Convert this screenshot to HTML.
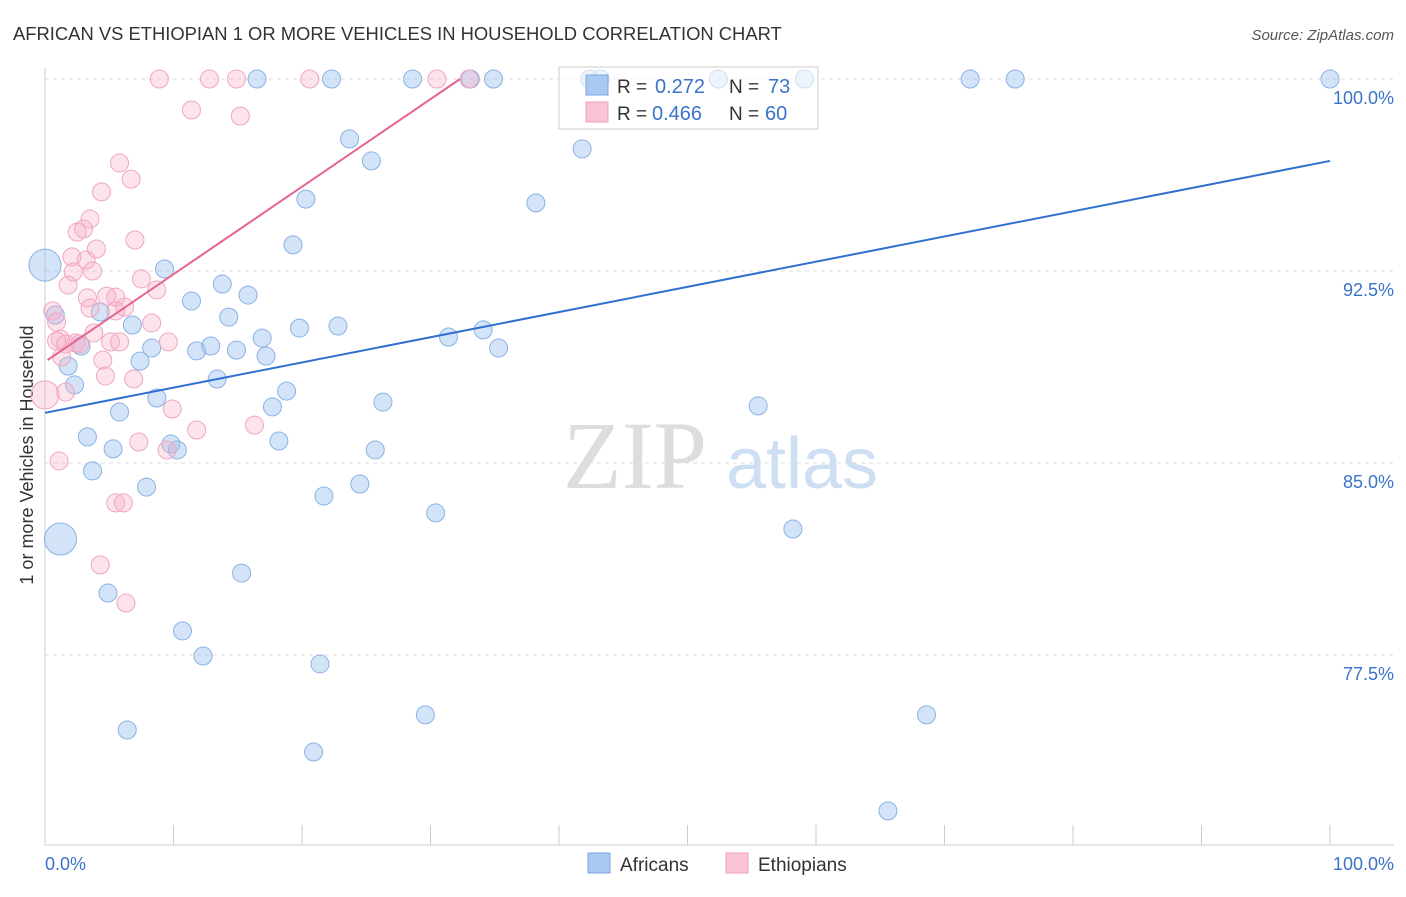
<!DOCTYPE html>
<html><head><meta charset="utf-8"><style>
body{margin:0;background:#fff;font-family:"Liberation Sans",sans-serif}
</style></head><body>
<svg id="chart" width="1406" height="892" xmlns="http://www.w3.org/2000/svg" font-family="Liberation Sans, sans-serif">
<text x="13" y="40" font-size="18.4" fill="#333">AFRICAN VS ETHIOPIAN 1 OR MORE VEHICLES IN HOUSEHOLD CORRELATION CHART</text>
<text x="1394" y="40" font-size="15" fill="#555" text-anchor="end" font-style="italic">Source: ZipAtlas.com</text>
<text transform="translate(33,455) rotate(-90)" font-size="18" fill="#333" text-anchor="middle">1 or more Vehicles in Household</text>
<g>
<text x="635" y="488" font-size="96" fill="#ddd" font-family="Liberation Serif, serif" text-anchor="middle">ZIP</text>
<text x="802" y="488" font-size="72" fill="#cfdff3" text-anchor="middle">atlas</text>
</g>
<g id="grid"></g><g id="ticks"></g><g id="pts"></g><g id="lines"></g>
<g>
<rect x="559" y="67" width="259" height="62" fill="#fff" fill-opacity="0.6" stroke="#ccc"/>
<rect x="586" y="75" width="22" height="20" fill="#a9c8f2" stroke="#7aa7e0"/>
<rect x="586" y="102" width="22" height="20" fill="#f9c5d5" stroke="#f0a0bc"/>
<text x="617" y="93" font-size="19" fill="#333">R =</text>
<text x="655" y="93" font-size="20" fill="#3a73c8">0.272</text>
<text x="729" y="93" font-size="19" fill="#333">N =</text>
<text x="768" y="93" font-size="20" fill="#3a73c8">73</text>
<text x="617" y="120" font-size="19" fill="#333">R =</text>
<text x="652" y="120" font-size="20" fill="#3a73c8">0.466</text>
<text x="729" y="120" font-size="19" fill="#333">N =</text>
<text x="765" y="120" font-size="20" fill="#3a73c8">60</text>
</g>
<g>
<rect x="588" y="853" width="22" height="20" fill="#a9c8f2" stroke="#7aa7e0"/>
<text x="620" y="871" font-size="19" fill="#333">Africans</text>
<rect x="726" y="853" width="22" height="20" fill="#f9c5d5" stroke="#f0a0bc"/>
<text x="758" y="871" font-size="19" fill="#333">Ethiopians</text>
</g>
</svg>
<script>
const yTicks=[100,92.5,85,77.5];
const yTickLabels=["100.0%","92.5%","85.0%","77.5%"];
const xTickLabels=["0.0%","100.0%"];
const afX=[0,16.5,22.3,28.6,33.1,34.9,42.4,43.2,52.4,59.1,72.0,75.5,100,23.7,25.4,41.8,20.3,38.2,19.3,9.3,13.8,11.4,15.8,0.8,4.3,14.3,6.8,19.8,22.8,16.9,31.4,34.1,2.8,8.3,11.8,12.9,14.9,17.2,35.3,7.4,1.8,2.3,13.4,18.8,8.7,26.3,17.7,5.8,55.5,3.3,18.2,9.8,10.3,5.3,25.7,3.7,7.9,24.5,21.7,30.4,58.2,1.2,15.3,4.9,10.7,12.3,21.4,29.6,68.6,6.4,20.9,65.6];
const afY=[92.73,100,100,100,100,100,100,100,100,100,100,100,100,97.66,96.8,97.27,95.31,95.16,93.52,92.58,91.99,91.33,91.56,90.78,90.9,90.7,90.39,90.27,90.35,89.88,89.92,90.2,89.57,89.49,89.38,89.57,89.41,89.18,89.49,88.98,88.79,88.05,88.28,87.81,87.54,87.38,87.19,86.99,87.23,86.02,85.86,85.74,85.51,85.55,85.51,84.69,84.06,84.18,83.71,83.05,82.42,82.03,80.7,79.92,78.44,77.46,77.15,75.16,75.16,74.57,73.71,71.41];
const afBig=[0,61];
const etX=[8.9,12.8,14.9,20.6,30.5,33.0,11.4,15.2,5.8,6.7,4.4,3.5,3.0,2.5,7.0,4.0,2.1,3.2,2.2,3.7,1.8,7.5,8.7,0.6,3.3,5.5,4.8,3.5,6.2,5.5,0.9,8.3,3.8,1.2,1.6,2.4,2.7,5.1,5.8,9.6,0.9,4.5,1.3,4.7,6.9,1.6,0,9.9,11.8,16.3,7.3,9.5,1.1,5.5,6.1,4.3,6.3];
const etY=[100,100,100,100,100,100,98.79,98.55,96.72,96.09,95.59,94.53,94.14,94.02,93.71,93.36,93.05,92.93,92.46,92.5,91.95,92.19,91.76,90.94,91.45,91.48,91.52,91.05,91.09,90.94,90.51,90.47,90.08,89.84,89.65,89.69,89.65,89.73,89.73,89.73,89.77,89.02,89.14,88.4,88.28,87.77,87.66,87.11,86.29,86.48,85.82,85.51,85.08,83.44,83.44,81.02,79.53];
const etBig=[46];
const afLine=[86.96,96.8];
const etLine=[89.02,100,32.3];
const NS="http://www.w3.org/2000/svg";
const X=v=>45+v*12.85, Y=v=>79+(100-v)*25.6;
function mk(t,a,p){const e=document.createElementNS(NS,t);for(const k in a)e.setAttribute(k,a[k]);document.getElementById(p).appendChild(e);return e;}
yTicks.forEach((t,i)=>{
 const l=mk('line',{x1:45,x2:1394,y1:Y(t),y2:Y(t),stroke:'#ddd','stroke-dasharray':'4,4'},'grid');
 
 
 const tx=mk('text',{x:1394,y:Y(t)+25,'font-size':18,fill:'#3a73c8','text-anchor':'end'},'grid');tx.textContent=yTickLabels[i];
 
 
});
mk('line',{x1:45,x2:45,y1:68,y2:845,stroke:'#ccc'},'ticks');
mk('line',{x1:45,x2:1394,y1:845,y2:845,stroke:'#ccc'},'ticks');
for(let i=0;i<=10;i++){const l=mk('line',{x1:X(i*10),x2:X(i*10),y1:825,y2:845,stroke:'#ccc'},'ticks');
 
 }
const t0=mk('text',{x:45,y:870,'font-size':18,fill:'#3a73c8'},'ticks');t0.textContent=xTickLabels[0];


const t1=mk('text',{x:1394,y:870,'font-size':18,fill:'#3a73c8','text-anchor':'end'},'ticks');t1.textContent=xTickLabels[1];


afX.forEach((x,i)=>{const c=mk('circle',{cx:X(x),cy:Y(afY[i]),r:afBig.includes(i)?16:9,fill:'rgba(160,196,240,0.45)',stroke:'#8ab2e6','stroke-width':1},'pts');
 
 });
etX.forEach((x,i)=>{const c=mk('circle',{cx:X(x),cy:Y(etY[i]),r:etBig.includes(i)?14:9,fill:'rgba(246,175,200,0.35)',stroke:'#f0a6c0','stroke-width':1},'pts');
 
 });
const bl=mk('line',{x1:X(0),y1:Y(afLine[0]),x2:X(100),y2:Y(afLine[1]),stroke:'#2f6fd0','stroke-width':2},'lines');


const pl=mk('line',{x1:X(0.2),y1:Y(etLine[0]),x2:X(etLine[2]),y2:Y(etLine[1]),stroke:'#e5648f','stroke-width':2},'lines');


</script>
</body></html>
